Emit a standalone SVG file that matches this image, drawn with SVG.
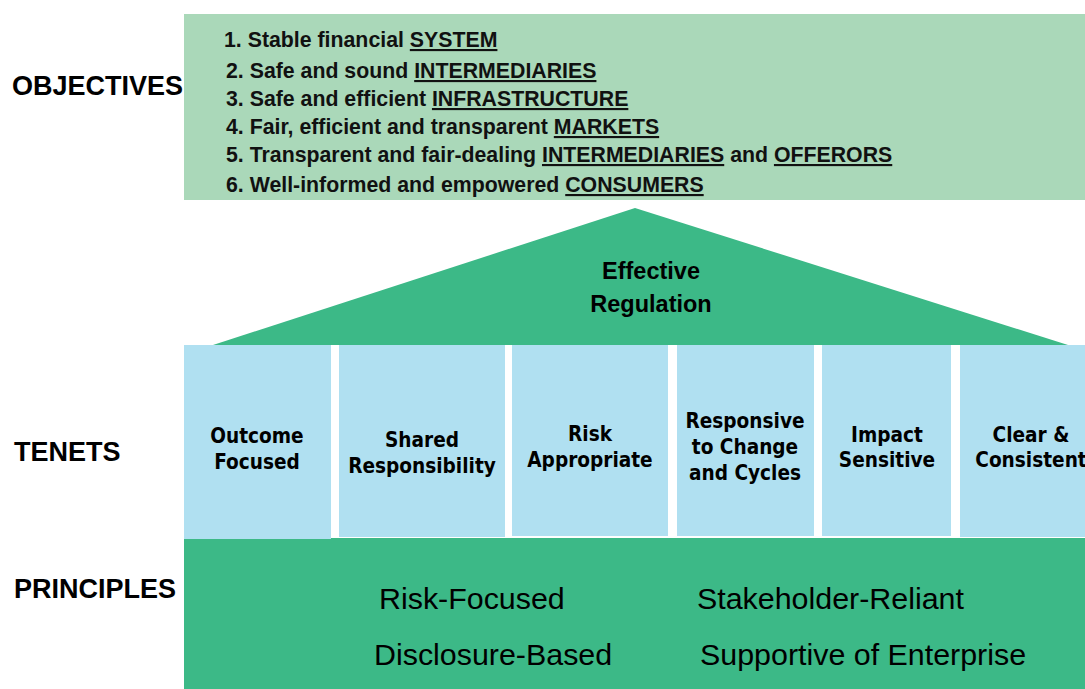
<svg xmlns="http://www.w3.org/2000/svg" width="1085" height="689" viewBox="0 0 1085 689">
<style>
.lbl{font-family:"Liberation Sans",Arial,sans-serif;font-weight:bold;font-size:27px;fill:#000}
.obj{font-family:"Liberation Sans",Arial,sans-serif;font-weight:bold;font-size:21.3px;fill:#111}
.u{text-decoration:underline}
.roof{font-family:"Liberation Sans",Arial,sans-serif;font-weight:bold;font-size:23.5px;fill:#000;text-anchor:middle}
.ten{font-family:"DejaVu Sans Condensed","DejaVu Sans",sans-serif;font-stretch:condensed;font-weight:bold;font-size:20.6px;fill:#000;text-anchor:middle}
.pri{font-family:"Liberation Sans",Arial,sans-serif;font-size:30.4px;fill:#000}
.col{fill:#b0e0f1}
.grn{fill:#3cb987}
</style>
<rect width="1085" height="689" fill="#ffffff"/>
<g id="objectives">
<rect x="184" y="14" width="901" height="186" fill="#aad8b9"/>
<text class="obj" x="224" y="47">1. Stable financial <tspan class="u">SYSTEM</tspan></text>
<text class="obj" x="226" y="78">2. Safe and sound <tspan class="u">INTERMEDIARIES</tspan></text>
<text class="obj" x="226" y="106">3. Safe and efficient <tspan class="u">INFRASTRUCTURE</tspan></text>
<text class="obj" x="226" y="134">4. Fair, efficient and transparent <tspan class="u">MARKETS</tspan></text>
<text class="obj" x="226" y="162">5. Transparent and fair-dealing <tspan class="u">INTERMEDIARIES</tspan> and <tspan class="u">OFFERORS</tspan></text>
<text class="obj" x="226" y="192">6. Well-informed and empowered <tspan class="u">CONSUMERS</tspan></text>
</g>
<g id="labels">
<text class="lbl" x="12" y="95">OBJECTIVES</text>
<text class="lbl" x="14" y="461">TENETS</text>
<text class="lbl" x="14" y="598">PRINCIPLES</text>
</g>
<g id="roof">
<polygon class="grn" points="635,208 1068,345 213,345"/>
<text class="roof" x="651" y="279">Effective</text>
<text class="roof" x="651" y="312">Regulation</text>
</g>
<g id="principles">
<rect class="grn" x="184" y="538" width="901" height="151"/>
<text class="pri" x="379" y="609">Risk-Focused</text>
<text class="pri" x="697" y="609">Stakeholder-Reliant</text>
<text class="pri" x="374" y="665">Disclosure-Based</text>
<text class="pri" x="700" y="665">Supportive of Enterprise</text>
</g>
<g id="tenet-outcome">
<rect class="col" x="184" y="345" width="147" height="194"/>
<text class="ten" x="257" y="443">Outcome</text>
<text class="ten" x="257" y="469">Focused</text>
</g>
<g id="tenet-shared">
<rect class="col" x="339" y="345" width="166" height="192"/>
<text class="ten" x="422" y="447">Shared</text>
<text class="ten" x="422" y="473">Responsibility</text>
</g>
<g id="tenet-risk">
<rect class="col" x="512" y="345" width="156" height="191"/>
<text class="ten" x="590" y="441">Risk</text>
<text class="ten" x="590" y="467">Appropriate</text>
</g>
<g id="tenet-responsive">
<rect class="col" x="677" y="345" width="137" height="191"/>
<text class="ten" x="745" y="428">Responsive</text>
<text class="ten" x="745" y="454">to Change</text>
<text class="ten" x="745" y="480">and Cycles</text>
</g>
<g id="tenet-impact">
<rect class="col" x="822" y="345" width="129" height="191"/>
<text class="ten" x="887" y="442">Impact</text>
<text class="ten" x="887" y="467">Sensitive</text>
</g>
<g id="tenet-clear">
<rect class="col" x="960" y="345" width="125" height="192"/>
<text class="ten" x="1031" y="442">Clear &amp;</text>
<text class="ten" x="1031" y="467">Consistent</text>
</g>
<g id="connectors"></g>
</svg>
